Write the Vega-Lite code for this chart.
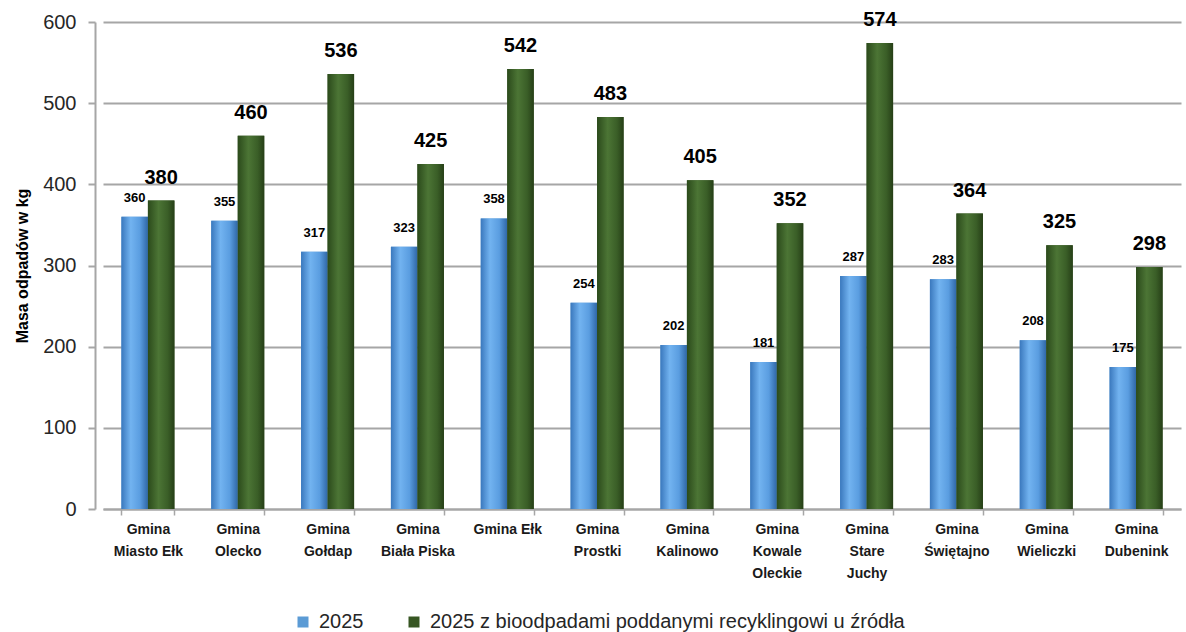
{
  "$schema": "https://vega.github.io/schema/vega-lite/v6.json",
  "width": 1078,
  "height": 487,
  "autosize": "none",
  "padding": {"left": 103, "top": 22, "right": 5, "bottom": 123},
  "background": "white",
  "config": {"view": {"stroke": null}, "font": "Liberation Sans"},
  "data": {
    "values": [
      {"gmina": "Gmina|Miasto Ełk", "seria": "2025", "v": 360},
      {"gmina": "Gmina|Miasto Ełk", "seria": "2025 z bioodpadami poddanymi recyklingowi u źródła", "v": 380},
      {"gmina": "Gmina|Olecko", "seria": "2025", "v": 355},
      {"gmina": "Gmina|Olecko", "seria": "2025 z bioodpadami poddanymi recyklingowi u źródła", "v": 460},
      {"gmina": "Gmina|Gołdap", "seria": "2025", "v": 317},
      {"gmina": "Gmina|Gołdap", "seria": "2025 z bioodpadami poddanymi recyklingowi u źródła", "v": 536},
      {"gmina": "Gmina|Biała Piska", "seria": "2025", "v": 323},
      {"gmina": "Gmina|Biała Piska", "seria": "2025 z bioodpadami poddanymi recyklingowi u źródła", "v": 425},
      {"gmina": "Gmina Ełk", "seria": "2025", "v": 358},
      {"gmina": "Gmina Ełk", "seria": "2025 z bioodpadami poddanymi recyklingowi u źródła", "v": 542},
      {"gmina": "Gmina|Prostki", "seria": "2025", "v": 254},
      {"gmina": "Gmina|Prostki", "seria": "2025 z bioodpadami poddanymi recyklingowi u źródła", "v": 483},
      {"gmina": "Gmina|Kalinowo", "seria": "2025", "v": 202},
      {"gmina": "Gmina|Kalinowo", "seria": "2025 z bioodpadami poddanymi recyklingowi u źródła", "v": 405},
      {"gmina": "Gmina|Kowale|Oleckie", "seria": "2025", "v": 181},
      {"gmina": "Gmina|Kowale|Oleckie", "seria": "2025 z bioodpadami poddanymi recyklingowi u źródła", "v": 352},
      {"gmina": "Gmina|Stare|Juchy", "seria": "2025", "v": 287},
      {"gmina": "Gmina|Stare|Juchy", "seria": "2025 z bioodpadami poddanymi recyklingowi u źródła", "v": 574},
      {"gmina": "Gmina|Świętajno", "seria": "2025", "v": 283},
      {"gmina": "Gmina|Świętajno", "seria": "2025 z bioodpadami poddanymi recyklingowi u źródła", "v": 364},
      {"gmina": "Gmina|Wieliczki", "seria": "2025", "v": 208},
      {"gmina": "Gmina|Wieliczki", "seria": "2025 z bioodpadami poddanymi recyklingowi u źródła", "v": 325},
      {"gmina": "Gmina|Dubenink", "seria": "2025", "v": 175},
      {"gmina": "Gmina|Dubenink", "seria": "2025 z bioodpadami poddanymi recyklingowi u źródła", "v": 298}
    ]
  },
  "encoding": {
    "x": {
      "field": "gmina",
      "type": "nominal",
      "sort": null,
      "scale": {"paddingInner": 0.41, "paddingOuter": 0.205},
      "axis": {
        "title": null,
        "labelAngle": 0,
        "labelExpr": "split(datum.label, '|')",
        "labelFontSize": 14,
        "labelFontWeight": "bold",
        "labelColor": "#1a1a1a",
        "labelLineHeight": 22,
        "labelPadding": 7,
        "tickBand": "extent",
        "tickColor": "#a6a6a6",
        "tickWidth": 1.5,
        "tickSize": 6,
        "domainColor": "#a6a6a6",
        "domainWidth": 2
      }
    },
    "xOffset": {
      "field": "seria",
      "type": "nominal",
      "scale": {"domain": ["2025", "2025 z bioodpadami poddanymi recyklingowi u źródła"]}
    },
    "y": {
      "field": "v",
      "type": "quantitative",
      "scale": {"domain": [0, 600]},
      "axis": {
        "title": "Masa odpadów w kg",
        "titleFontSize": 16,
        "titleFontWeight": "bold",
        "titleColor": "#000000",
        "titlePadding": 12,
        "values": [0, 100, 200, 300, 400, 500, 600],
        "labelFontSize": 20,
        "labelColor": "#262626",
        "labelPadding": 12,
        "offset": 8,
        "gridColor": "#a6a6a6",
        "gridWidth": 2,
        "domainColor": "#a6a6a6",
        "domainWidth": 2,
        "tickColor": "#a6a6a6",
        "tickWidth": 2,
        "tickSize": 7
      }
    }
  },
  "layer": [
    {
      "mark": {"type": "bar"},
      "encoding": {
        "color": {
          "field": "seria",
          "type": "nominal",
          "scale": {
            "domain": ["2025", "2025 z bioodpadami poddanymi recyklingowi u źródła"],
            "range": ["#5b9bd5", "#375623"]
          },
          "legend": {
            "orient": "none",
            "legendX": 190,
            "legendY": 590,
            "direction": "horizontal",
            "title": null,
            "symbolType": "square",
            "symbolSize": 121,
            "symbolStrokeWidth": 0,
            "labelFontSize": 20,
            "labelColor": "#262626",
            "labelOffset": 6,
            "columnPadding": 40,
            "labelLimit": 800
          }
        }
      }
    },
    {
      "transform": [{"filter": "datum.seria == '2025'"}],
      "mark": {
        "type": "bar",
        "color": {
          "gradient": "linear",
          "x1": 0, "x2": 1, "y1": 0, "y2": 0,
          "stops": [
            {"offset": 0, "color": "#3a78bd"},
            {"offset": 0.35, "color": "#72b3f0"},
            {"offset": 0.7, "color": "#5a9de0"},
            {"offset": 1, "color": "#2f67a6"}
          ]
        }
      }
    },
    {
      "transform": [{"filter": "datum.seria != '2025'"}],
      "mark": {
        "type": "bar",
        "color": {
          "gradient": "linear",
          "x1": 0, "x2": 1, "y1": 0, "y2": 0,
          "stops": [
            {"offset": 0, "color": "#2b4a1b"},
            {"offset": 0.4, "color": "#4c7535"},
            {"offset": 0.75, "color": "#3a5e27"},
            {"offset": 1, "color": "#263f17"}
          ]
        }
      }
    },
    {
      "transform": [{"filter": "datum.seria == '2025'"}],
      "mark": {"type": "text", "fontSize": 13, "fontWeight": "bold", "color": "#000000", "baseline": "alphabetic", "dy": -15},
      "encoding": {"text": {"field": "v", "type": "quantitative"}}
    },
    {
      "transform": [{"filter": "datum.seria != '2025'"}],
      "mark": {"type": "text", "fontSize": 20, "fontWeight": "bold", "color": "#000000", "baseline": "alphabetic", "dy": -17},
      "encoding": {"text": {"field": "v", "type": "quantitative"}}
    }
  ]
}
